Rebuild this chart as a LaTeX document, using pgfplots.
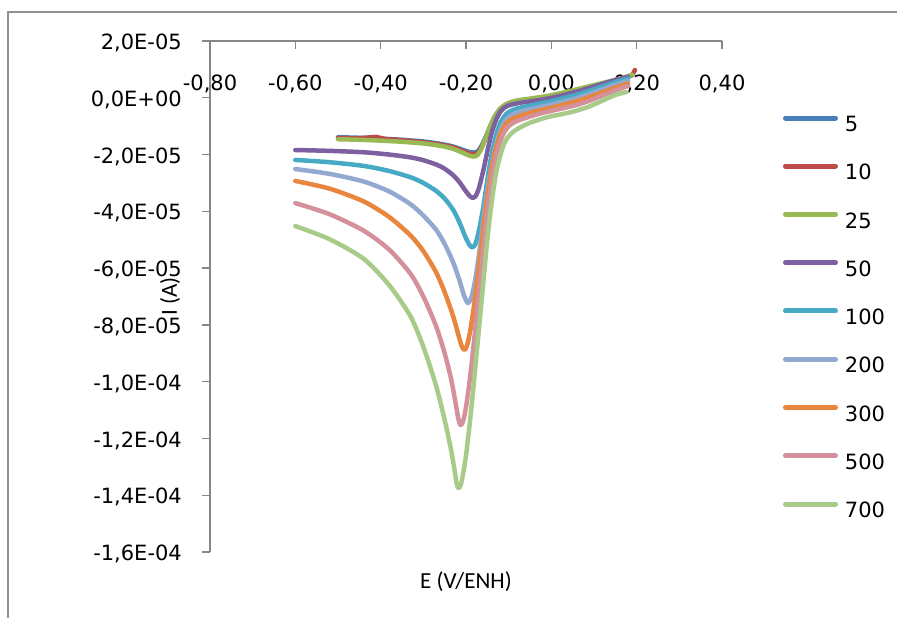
\documentclass[border=0pt]{standalone}
\usepackage{fontspec}
\setmainfont{DejaVu Sans}
\newfontfamily\carlito{Carlito}
\usepackage{pgfplots}
\pgfplotsset{compat=1.18}
\definecolor{c5}{HTML}{4A7EBB}
\definecolor{c10}{HTML}{BE4B48}
\definecolor{c25}{HTML}{98B954}
\definecolor{c50}{HTML}{7D60A0}
\definecolor{c100}{HTML}{46AAC5}
\definecolor{c200}{HTML}{93A9CF}
\definecolor{c300}{HTML}{E8863E}
\definecolor{c500}{HTML}{D4919B}
\definecolor{c700}{HTML}{A9CB8A}
\definecolor{axgray}{HTML}{868686}
\begin{document}
\fontsize{21}{25}\selectfont
\begin{tikzpicture}[x=1pt,y=1pt]
\useasboundingbox (0,0) rectangle (897,618);
\draw[color=axgray!90, line width=1.5pt] (897,606) -- (8,606) -- (8,0);
\begin{axis}[
  at={(210pt,66pt)}, anchor=south west,
  scale only axis, width=512pt, height=511pt,
  font=\fontsize{21}{25}\selectfont,
  xmin=-0.8, xmax=0.4, ymin=-1.6e-4, ymax=2e-5,
  axis x line=top, axis y line=left,
  axis line style={-, draw=axgray, line width=1.3pt},
  xtick={-0.8,-0.6,-0.4,-0.2,0,0.2,0.4},
  xticklabels={{-0,80},{-0,60},{-0,40},{-0,20},{0,00},{0,20},{0,40}},
  ytick={-1.6e-4,-1.4e-4,-1.2e-4,-1e-4,-8e-5,-6e-5,-4e-5,-2e-5,0,2e-5},
  yticklabels={{-1,6E-04},{-1,4E-04},{-1,2E-04},{-1,0E-04},{-8,0E-05},{-6,0E-05},{-4,0E-05},{-2,0E-05},{0,0E+00},{2,0E-05}},
  scaled ticks=false,
  tick align=inside,
  major tick length=8pt,
  tick style={draw=axgray, line width=1.3pt},
  y tick style={xshift=-8pt},
  /pgf/number format/assume math mode=true,
  x tick label style={anchor=center, yshift=-43pt, inner sep=0pt},
  y tick label style={anchor=east, inner sep=0pt, xshift=-28pt, yshift=-2pt},
  xlabel={\carlito\fontsize{23}{27}\selectfont E (V/ENH)},
  ylabel={\carlito\fontsize{23}{27}\selectfont I (A)},
  xlabel style={at={(axis description cs:0.5,-0.0587)}, anchor=center, inner sep=0pt},
  ylabel style={at={(axis description cs:-0.078,0.5)}, anchor=center, inner sep=0pt},
  legend style={at={(1.1191,0.8542)}, anchor=north west, draw=none, fill=none,
    inner sep=0pt, outer sep=0pt, row sep=28.9pt, nodes={inner sep=0pt},
    /tikz/every odd column/.append style={column sep=7pt}},
  legend cell align=left,
  legend image code/.code={\draw[#1, line width=5pt, line cap=round] (2.5pt,7.5pt) -- (52.5pt,7.5pt);},
  every axis plot/.append style={line width=4.5pt, line join=round, line cap=round, mark=none, smooth, tension=0.45},
]
\addplot[c5] table {
-0.50 -13.9e-6
-0.45 -14.1e-6
-0.40 -14.4e-6
-0.35 -14.8e-6
-0.30 -15.4e-6
-0.27 -16.0e-6
-0.25 -16.5e-6
-0.23 -17.2e-6
-0.21 -18.2e-6
-0.195 -19.0e-6
-0.182 -19.3e-6
-0.172 -18.8e-6
-0.162 -16.5e-6
-0.150 -12.5e-6
-0.140 -9.0e-6
-0.130 -6.0e-6
-0.120 -4.0e-6
-0.110 -2.8e-6
-0.100 -2.0e-6
-0.085 -1.4e-6
-0.070 -1.0e-6
-0.050 -0.6e-6
-0.020 0.1e-6
0.000 0.6e-6
0.030 1.6e-6
0.060 2.7e-6
0.090 3.8e-6
0.120 5.0e-6
0.150 6.2e-6
0.180 7.5e-6
0.190 8.0e-6
};
\addlegendentry{5}
\addplot[c10] table {
-0.50 -14.1e-6
-0.46 -14.3e-6
-0.43 -14.0e-6
-0.41 -13.8e-6
-0.39 -14.5e-6
-0.35 -15.0e-6
-0.30 -15.7e-6
-0.27 -16.3e-6
-0.25 -16.8e-6
-0.23 -17.5e-6
-0.21 -18.6e-6
-0.195 -19.5e-6
-0.182 -19.9e-6
-0.172 -19.4e-6
-0.162 -17.0e-6
-0.150 -12.8e-6
-0.140 -9.2e-6
-0.130 -6.2e-6
-0.120 -4.2e-6
-0.110 -3.0e-6
-0.100 -2.2e-6
-0.085 -1.6e-6
-0.070 -1.2e-6
-0.050 -0.8e-6
-0.020 -0.1e-6
0.000 0.4e-6
0.030 1.4e-6
0.060 2.5e-6
0.090 3.6e-6
0.120 4.8e-6
0.150 6.0e-6
0.180 7.4e-6
0.190 8.2e-6
0.196 9.8e-6
};
\addlegendentry{10}
\addplot[c25] table {
-0.50 -14.6e-6
-0.45 -14.8e-6
-0.40 -15.1e-6
-0.35 -15.5e-6
-0.30 -16.1e-6
-0.27 -16.7e-6
-0.25 -17.2e-6
-0.23 -18.0e-6
-0.21 -19.2e-6
-0.195 -20.2e-6
-0.184 -20.7e-6
-0.174 -20.3e-6
-0.164 -18.0e-6
-0.152 -13.5e-6
-0.142 -9.6e-6
-0.132 -6.4e-6
-0.122 -4.2e-6
-0.112 -2.8e-6
-0.100 -1.8e-6
-0.085 -1.1e-6
-0.070 -0.7e-6
-0.050 -0.3e-6
-0.020 0.4e-6
0.000 0.9e-6
0.030 1.9e-6
0.060 3.0e-6
0.090 4.1e-6
0.120 5.2e-6
0.150 6.3e-6
0.180 7.6e-6
0.190 8.1e-6
};
\addlegendentry{25}
\addplot[c50] table {
-0.60 -18.4e-6
-0.52 -18.7e-6
-0.44 -19.2e-6
-0.38 -20.0e-6
-0.33 -21.0e-6
-0.30 -22.0e-6
-0.27 -23.5e-6
-0.25 -25.0e-6
-0.23 -27.3e-6
-0.215 -29.8e-6
-0.200 -33.0e-6
-0.190 -34.8e-6
-0.184 -35.3e-6
-0.178 -34.8e-6
-0.170 -32.0e-6
-0.160 -26.0e-6
-0.150 -19.0e-6
-0.140 -12.5e-6
-0.130 -8.0e-6
-0.120 -5.0e-6
-0.110 -3.5e-6
-0.100 -2.7e-6
-0.085 -2.1e-6
-0.070 -1.7e-6
-0.050 -1.3e-6
-0.020 -0.6e-6
0.000 0.0e-6
0.030 1.0e-6
0.060 2.2e-6
0.090 3.5e-6
0.120 4.9e-6
0.150 6.2e-6
0.180 7.4e-6
};
\addlegendentry{50}
\addplot[c100] table {
-0.60 -21.9e-6
-0.52 -22.7e-6
-0.44 -24.0e-6
-0.38 -25.8e-6
-0.33 -28.0e-6
-0.30 -30.0e-6
-0.27 -32.8e-6
-0.25 -35.5e-6
-0.23 -39.5e-6
-0.215 -44.0e-6
-0.200 -49.5e-6
-0.190 -52.2e-6
-0.184 -52.6e-6
-0.178 -51.5e-6
-0.170 -47.0e-6
-0.160 -39.0e-6
-0.150 -29.0e-6
-0.140 -20.0e-6
-0.130 -13.5e-6
-0.120 -9.0e-6
-0.110 -6.5e-6
-0.100 -5.0e-6
-0.085 -4.0e-6
-0.070 -3.4e-6
-0.050 -2.8e-6
-0.020 -1.8e-6
0.000 -1.2e-6
0.030 -0.1e-6
0.060 1.1e-6
0.090 2.5e-6
0.120 4.0e-6
0.150 5.5e-6
0.180 6.8e-6
};
\addlegendentry{100}
\addplot[c200] table {
-0.60 -25.1e-6
-0.52 -26.8e-6
-0.44 -29.5e-6
-0.38 -33.0e-6
-0.33 -37.5e-6
-0.30 -41.5e-6
-0.27 -46.5e-6
-0.25 -51.5e-6
-0.23 -58.0e-6
-0.215 -64.5e-6
-0.205 -69.5e-6
-0.196 -72.3e-6
-0.189 -71.0e-6
-0.182 -67.0e-6
-0.175 -61.0e-6
-0.165 -50.0e-6
-0.155 -38.0e-6
-0.145 -28.0e-6
-0.135 -20.0e-6
-0.125 -14.0e-6
-0.115 -10.0e-6
-0.105 -7.6e-6
-0.090 -5.8e-6
-0.070 -4.7e-6
-0.050 -4.0e-6
-0.020 -3.0e-6
0.000 -2.4e-6
0.030 -1.3e-6
0.060 -0.1e-6
0.090 1.4e-6
0.120 3.0e-6
0.150 4.6e-6
0.180 6.0e-6
};
\addlegendentry{200}
\addplot[c300] table {
-0.60 -29.3e-6
-0.52 -32.0e-6
-0.44 -36.5e-6
-0.38 -42.0e-6
-0.33 -48.5e-6
-0.30 -54.0e-6
-0.27 -61.5e-6
-0.25 -68.5e-6
-0.23 -77.0e-6
-0.217 -84.0e-6
-0.210 -87.5e-6
-0.204 -88.8e-6
-0.198 -87.5e-6
-0.190 -82.0e-6
-0.180 -72.0e-6
-0.170 -60.0e-6
-0.160 -47.0e-6
-0.150 -35.0e-6
-0.140 -25.0e-6
-0.130 -18.0e-6
-0.120 -13.0e-6
-0.110 -10.0e-6
-0.100 -8.2e-6
-0.085 -7.0e-6
-0.070 -6.2e-6
-0.050 -5.3e-6
-0.020 -4.2e-6
0.000 -3.5e-6
0.030 -2.4e-6
0.060 -1.2e-6
0.090 0.3e-6
0.120 1.9e-6
0.150 3.6e-6
0.180 5.0e-6
};
\addlegendentry{300}
\addplot[c500] table {
-0.60 -37.1e-6
-0.52 -41.0e-6
-0.44 -46.8e-6
-0.38 -53.5e-6
-0.33 -62.0e-6
-0.30 -70.0e-6
-0.27 -80.5e-6
-0.25 -90.0e-6
-0.235 -99.0e-6
-0.225 -107.0e-6
-0.218 -113.0e-6
-0.213 -115.3e-6
-0.207 -114.0e-6
-0.200 -109.0e-6
-0.190 -98.0e-6
-0.180 -84.0e-6
-0.170 -69.0e-6
-0.160 -54.0e-6
-0.150 -40.0e-6
-0.140 -29.0e-6
-0.130 -21.0e-6
-0.120 -15.5e-6
-0.110 -12.0e-6
-0.100 -10.0e-6
-0.085 -8.5e-6
-0.070 -7.6e-6
-0.050 -6.6e-6
-0.020 -5.3e-6
0.000 -4.6e-6
0.030 -3.6e-6
0.060 -2.5e-6
0.090 -1.0e-6
0.120 0.8e-6
0.150 2.6e-6
0.180 4.2e-6
};
\addlegendentry{500}
\addplot[c700] table {
-0.60 -45.2e-6
-0.52 -49.8e-6
-0.44 -56.7e-6
-0.38 -66.0e-6
-0.33 -77.0e-6
-0.30 -87.7e-6
-0.27 -101.5e-6
-0.25 -113.5e-6
-0.235 -124.0e-6
-0.227 -131.0e-6
-0.221 -136.5e-6
-0.216 -137.5e-6
-0.210 -135.0e-6
-0.200 -126.0e-6
-0.190 -113.0e-6
-0.180 -98.0e-6
-0.170 -82.0e-6
-0.160 -66.0e-6
-0.150 -50.0e-6
-0.140 -37.0e-6
-0.130 -27.0e-6
-0.120 -20.5e-6
-0.110 -16.0e-6
-0.100 -13.5e-6
-0.085 -11.5e-6
-0.070 -10.2e-6
-0.050 -8.8e-6
-0.020 -7.3e-6
0.000 -6.5e-6
0.030 -5.6e-6
0.060 -4.5e-6
0.090 -3.0e-6
0.120 -1.0e-6
0.150 1.0e-6
0.175 2.0e-6
};
\addlegendentry{700}
\end{axis}
\end{tikzpicture}
\end{document}
